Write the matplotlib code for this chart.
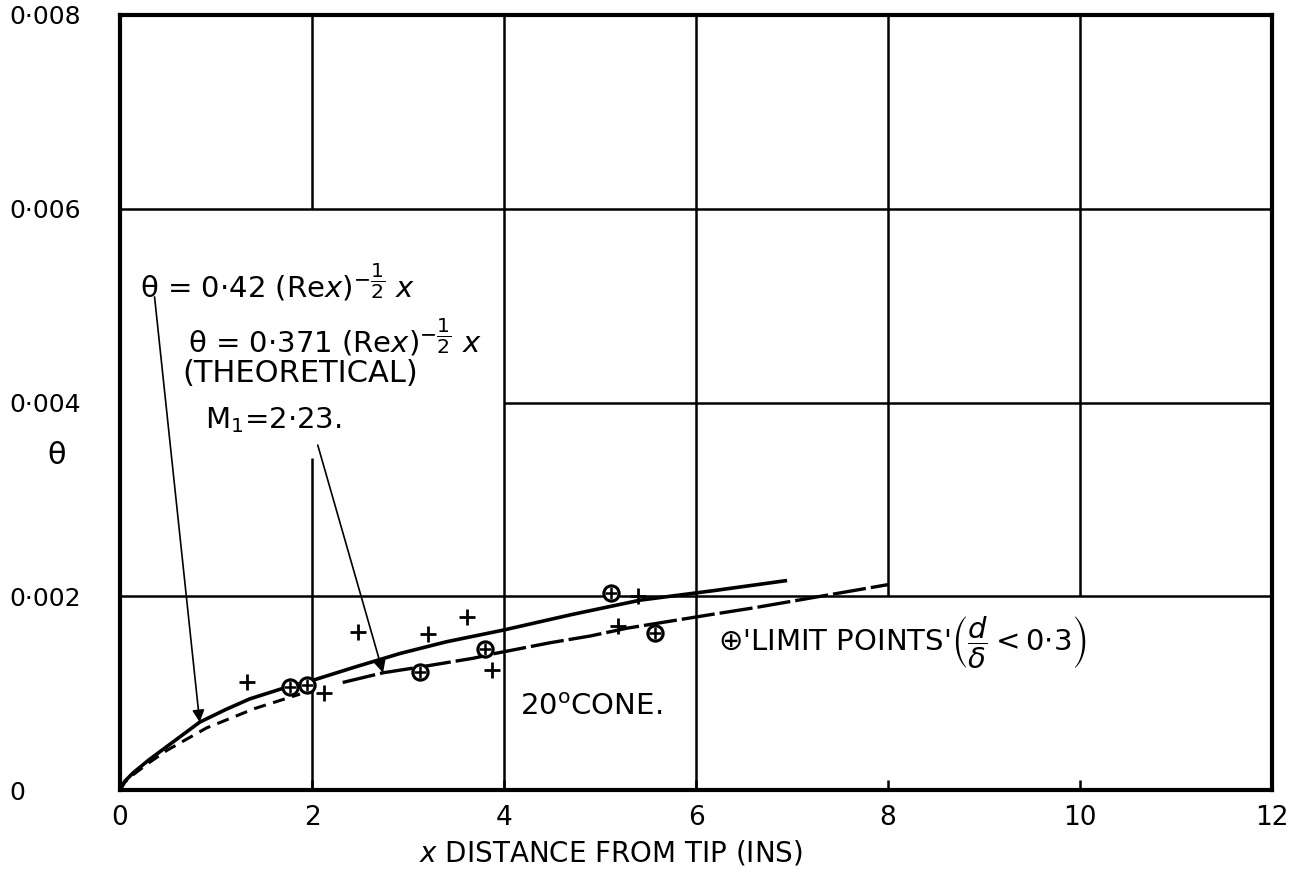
import matplotlib
matplotlib.use('Agg')
import matplotlib.pyplot as plt
import numpy as np

plt.rcParams['font.family'] = ['DejaVu Sans']
plt.rcParams['mathtext.fontset'] = 'dejavusans'

# theta values are in units of 1e-3
upper_x = [0, 0.05, 0.14, 0.3, 0.49, 0.83, 1.1, 1.35, 1.7, 2.0, 2.45, 2.92, 3.4, 3.99, 4.7, 5.42, 6.2, 6.93]
upper_t = [0, 0.09, 0.18, 0.31, 0.45, 0.70, 0.83, 0.94, 1.05, 1.13, 1.27, 1.41, 1.53, 1.65, 1.81, 1.96, 2.06, 2.16]

lower_x_dash = [0, 0.05, 0.14, 0.3, 0.49, 0.9, 1.4, 1.875]
lower_t_dash = [0, 0.08, 0.16, 0.28, 0.41, 0.64, 0.84, 0.99]
lower_x_solid = [2.32, 2.74, 3.13, 3.68, 3.91, 4.48, 4.9, 5.28, 6.15, 6.6, 8.0]
lower_t_solid = [1.11, 1.21, 1.27, 1.36, 1.41, 1.52, 1.59, 1.67, 1.81, 1.88, 2.12]

plus_x = [1.32, 2.12, 2.48, 3.21, 3.61, 3.87, 5.19, 5.4]
plus_t = [1.11, 1.00, 1.63, 1.61, 1.79, 1.24, 1.69, 2.0]

limit_x = [1.77, 1.95, 3.13, 3.80, 5.11, 5.57]
limit_t = [1.06, 1.08, 1.22, 1.46, 2.03, 1.62]

xticks = [0, 2, 4, 6, 8, 10, 12]
yticks = [0, 0.002, 0.004, 0.006, 0.008]
ytick_labels = ['0', '0·002', '0·004', '0·006', '0·008']

s = 1e-3
fig = plt.figure(figsize=(12.94, 8.84), dpi=100)
ax = fig.add_axes([120/1294, 1-790/884, 1152/1294, 775/884])
ax.set_xlim(0, 12)
ax.set_ylim(0, 0.008)

# hand-drawn grid (some lines broken)
g = dict(color='black', lw=1.8, zorder=1)
ax.vlines(2, 0, 0.00343, **g)
ax.vlines(2, 0.006, 0.008, **g)
ax.vlines([4, 6], 0, 0.008, **g)
ax.vlines([8, 10], 0.002, 0.008, **g)
ax.hlines([0.002, 0.006], 0, 12, **g)
ax.hlines(0.004, 4, 12, **g)

for sp in ax.spines.values():
    sp.set_linewidth(3)

ax.plot(upper_x, np.array(upper_t)*s, color='black', lw=2.6, zorder=3)
ax.plot(lower_x_dash, np.array(lower_t_dash)*s, color='black', lw=2.2,
        dashes=(4, 2.5), zorder=3)
ax.plot(lower_x_solid, np.array(lower_t_solid)*s, color='black', lw=2.4,
        dashes=(10, 1.5), zorder=3)

ax.plot(plus_x, np.array(plus_t)*s, linestyle='none', marker='+', ms=12,
        mew=2, color='black', zorder=4)
ax.plot(limit_x, np.array(limit_t)*s, linestyle='none', marker='o', ms=11,
        mew=2.2, mfc='white', mec='black', zorder=5)
ax.plot(limit_x, np.array(limit_t)*s, linestyle='none', marker='+', ms=9,
        mew=1.8, color='black', zorder=6)

ax.set_xticks(xticks)
ax.set_xticklabels([str(v) for v in xticks], fontsize=19)
ax.set_yticks(yticks)
ax.set_yticklabels(ytick_labels, fontsize=18, ha='left')
ax.tick_params(axis='y', length=0, pad=80)
ax.tick_params(axis='x', direction='in', length=7, width=1.8, pad=11)

ax.set_xlabel(r'$x$ DISTANCE FROM TIP (INS)', fontsize=20)
ax.xaxis.set_label_coords(0.426, -0.062)
ax.text(-0.055, 0.432, 'θ', transform=ax.transAxes, fontsize=22,
        ha='center', va='center')

ax.text(0.21, 5.24*s, r'θ = 0·42 (Re$x$)$^{-\dfrac{1}{2}}$ $x$',
        fontsize=21, va='center', ha='left')
ax.text(0.71, 4.67*s, r'θ = 0·371 (Re$x$)$^{-\dfrac{1}{2}}$ $x$',
        fontsize=21, va='center', ha='left')
ax.text(0.65, 4.30*s, '(THEORETICAL)', fontsize=22, va='center', ha='left')
ax.text(0.89, 3.82*s, r'M$_1$=2·23.', fontsize=21, va='center', ha='left')
ax.text(4.17, 0.86*s, r'20$^{\mathrm{o}}$CONE.', fontsize=21, va='center', ha='left')
ax.text(6.23, 1.52*s, r"⊕'LIMIT POINTS'$\left(\dfrac{d}{\delta} < 0{\cdot}3\right)$",
        fontsize=21, va='center', ha='left')

arrow = dict(arrowstyle='-|>', color='black', lw=1.2, mutation_scale=18,
             shrinkA=0, shrinkB=0)
ax.annotate('', xy=(0.83, 0.70*s), xytext=(0.36, 5.09*s), arrowprops=arrow)
ax.annotate('', xy=(2.74, 1.21*s), xytext=(2.06, 3.56*s), arrowprops=arrow)

fig.savefig('out.png', dpi=100)
